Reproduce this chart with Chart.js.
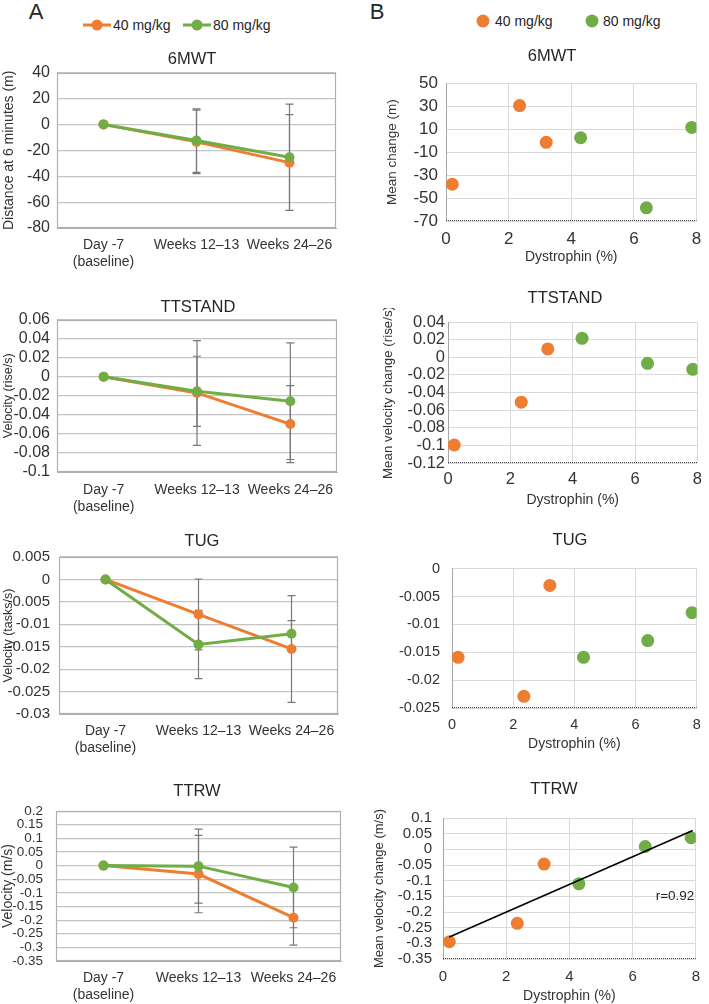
<!DOCTYPE html>
<html>
<head>
<meta charset="utf-8">
<script src="https://cdn.jsdelivr.net/npm/chart.js@4.4.1/dist/chart.umd.min.js"></script>
<style>
  body { margin: 0; width: 709px; height: 1004px; overflow: hidden; background: #fff; position: relative;
         font-family: "Liberation Sans", Arial, sans-serif; color: #262626; }
  canvas { position: absolute; }
  .t { position: absolute; white-space: nowrap; line-height: 1; transform: translate(-50%, -50%); z-index: 2; }
  .l { position: absolute; white-space: nowrap; line-height: 1; transform: translateY(-50%); font-size: 14px; z-index: 2; }
  .seg { position: absolute; height: 3px; width: 28px; transform: translateY(-50%); }
  .dot { position: absolute; border-radius: 50%; transform: translate(-50%, -50%); }
</style>
</head>
<body>
<div class="t" style="left:36px;top:12px;font-size:22px">A</div>
<div class="t" style="left:377px;top:12px;font-size:22px">B</div>

<!-- legend A -->
<div class="seg" style="left:83px;top:25px;background:#ED7D31"></div>
<div class="dot" style="left:97px;top:25px;width:11px;height:11px;background:#ED7D31"></div>
<div class="l" style="left:113px;top:25px">40 mg/kg</div>
<div class="seg" style="left:183px;top:25px;background:#70AD47"></div>
<div class="dot" style="left:197px;top:25px;width:11px;height:11px;background:#70AD47"></div>
<div class="l" style="left:213px;top:25px">80 mg/kg</div>

<!-- legend B -->
<div class="dot" style="left:483px;top:21px;width:13px;height:13px;background:#ED7D31"></div>
<div class="l" style="left:495px;top:21px">40 mg/kg</div>
<div class="dot" style="left:592px;top:21px;width:13px;height:13px;background:#70AD47"></div>
<div class="l" style="left:603px;top:21px">80 mg/kg</div>

<div class="t" style="left:192px;top:58px;font-size:16.5px">6MWT</div>
<div class="t" style="left:198px;top:306px;font-size:16.5px">TTSTAND</div>
<div class="t" style="left:202px;top:540px;font-size:16.5px">TUG</div>
<div class="t" style="left:197px;top:790px;font-size:16.5px">TTRW</div>
<div class="t" style="left:552px;top:55px;font-size:16.5px">6MWT</div>
<div class="t" style="left:565px;top:297px;font-size:16.5px">TTSTAND</div>
<div class="t" style="left:570px;top:539px;font-size:16.5px">TUG</div>
<div class="t" style="left:554px;top:788px;font-size:16.5px">TTRW</div>
<div class="t" style="left:675px;top:896px;font-size:13.5px">r=0.92</div>

<canvas id="a1"></canvas>
<canvas id="a2"></canvas>
<canvas id="a3"></canvas>
<canvas id="a4"></canvas>
<canvas id="b1"></canvas>
<canvas id="b2"></canvas>
<canvas id="b3"></canvas>
<canvas id="b4"></canvas>

<script>
// categories and doses
const visits = [['Day -7', '(baseline)'], 'Weeks 12–13', 'Weeks 24–26'];
const doses = ['40 mg/kg', '80 mg/kg'];

// A: change from baseline (mean) and error bar half-lengths
const walk40 = [0, -13.5, -29.5];
const walk40Err = [0, 24.5, 37];
const walk80 = [0, -12.5, -25.3];
const walk80Err = [0, 24.5, 41];

const stand40 = [0, -0.017, -0.0497];
const stand40Err = [0, 0.055, 0.0404];
const stand80 = [0, -0.0153, -0.0257];
const stand80Err = [0, 0.0368, 0.0612];

const tug40 = [0, -0.0078, -0.0155];
const tug40Err = [0, 0.0079, 0.0119];
const tug80 = [0, -0.0145, -0.0121];
const tug80Err = [0, 0.0076, 0.0029];

const ttrw40 = [0, -0.031, -0.191];
const ttrw40Err = [0, 0.142, 0.101];
const ttrw80 = [0, -0.002, -0.080];
const ttrw80Err = [0, 0.136, 0.148];

// B: dystrophin (%) against mean change
const dys40 = [0.2, 2.35, 3.2];
const dys80 = [4.3, 6.4, 7.85];
const walkB40 = [-38, 30.5, -1.5];
const walkB80 = [2.5, -58.5, 11.5];
const standB40 = [-0.0996, -0.051, 0.0094];
const standB80 = [0.0215, -0.0069, -0.0137];
const tugB40 = [-0.0159, -0.0229, -0.003];
const tugB80 = [-0.0159, -0.0129, -0.0079];
const ttrwB40 = [-0.295, -0.236, -0.047];
const ttrwB80 = [-0.110, 0.009, 0.037];
const trendX = [0.2, 7.9];
const trendY = [-0.28, 0.06];

// axis ranges [min, max, step]
const walkTicks = [-80, 40, 20];
const standTicks = [-0.1, 0.06, 0.02];
const tugTicks = [-0.03, 0.005, 0.005];
const ttrwTicks = [-0.35, 0.2, 0.05];
const walkBTicks = [-70, 50, 20];
const standBTicks = [-0.12, 0.04, 0.02];
const tugBTicks = [-0.025, 0, 0.005];
const ttrwBTicks = [-0.35, 0.1, 0.05];
const dysTicks = [0, 8, 2];

const orange = '#ED7D31';
const green = '#70AD47';
const FONT = '"Liberation Sans", Arial, sans-serif';
const txt = '#333333';
const fmt = v => String(+Number(v).toFixed(6));

// gray error bars, drawn under the points
const errorBars = {
  id: 'errorBars',
  beforeDatasetsDraw(chart) {
    const ctx = chart.ctx;
    const y = chart.scales.y;
    chart.data.datasets.forEach((ds, i) => {
      if (!ds.errors) return;
      const meta = chart.getDatasetMeta(i);
      ctx.save();
      ctx.strokeStyle = '#787878';
      ctx.lineWidth = 1.2;
      ds.data.forEach((v, j) => {
        const e = ds.errors[j];
        if (!e) return;
        const x = meta.data[j].x;
        const top = y.getPixelForValue(v + e);
        const bot = y.getPixelForValue(v - e);
        ctx.beginPath();
        ctx.moveTo(x, top); ctx.lineTo(x, bot);
        ctx.moveTo(x - 4, top); ctx.lineTo(x + 4, top);
        ctx.moveTo(x - 4, bot); ctx.lineTo(x + 4, bot);
        ctx.stroke();
      });
      ctx.restore();
    });
  }
};

// frame round the plot area of the A charts
const plotBox = {
  id: 'plotBox',
  beforeDatasetsDraw(chart) {
    const a = chart.chartArea;
    const ctx = chart.ctx;
    ctx.save();
    ctx.strokeStyle = '#b0b0b0';
    ctx.lineWidth = 1.2;
    ctx.strokeRect(Math.round(a.left) + 0.5, Math.round(a.top) + 0.5,
                   Math.round(a.width) - 1, Math.round(a.height) - 1);
    ctx.restore();
  }
};

// dotted base line of the B charts
const dottedBase = {
  id: 'dottedBase',
  beforeDatasetsDraw(chart) {
    const a = chart.chartArea;
    const ctx = chart.ctx;
    const y = Math.round(a.bottom) - 0.5;
    ctx.save();
    ctx.strokeStyle = '#ffffff';
    ctx.lineWidth = 1;
    ctx.beginPath(); ctx.moveTo(a.left, y); ctx.lineTo(a.right, y); ctx.stroke();
    ctx.strokeStyle = '#3a3a3a';
    ctx.setLineDash([1, 1]);
    ctx.beginPath(); ctx.moveTo(a.left, y); ctx.lineTo(a.right, y); ctx.stroke();
    ctx.restore();
  }
};

function place(id, b) {
  const c = document.getElementById(id);
  const top = b.plotT - 14;
  c.width = b.width;
  c.height = b.plotB - top + b.xh;
  c.style.left = b.left + 'px';
  c.style.top = top + 'px';
  return c;
}

function lineChart(id, b, yr, s40, e40, s80, e80, yTitle) {
  const c = place(id, b);
  new Chart(c, {
    type: 'line',
    data: {
      labels: visits,
      datasets: [
        { label: doses[0], data: s40, errors: e40, borderColor: orange, backgroundColor: orange,
          borderWidth: 3, pointRadius: 5, pointBorderWidth: 0, order: 1 },
        { label: doses[1], data: s80, errors: e80, borderColor: green, backgroundColor: green,
          borderWidth: 3, pointRadius: 5, pointBorderWidth: 0, order: 0 }
      ]
    },
    options: {
      responsive: false,
      animation: false,
      layout: { padding: { top: 14, left: 0, bottom: 0, right: b.width - (b.plotR - b.left) } },
      plugins: { legend: { display: false }, tooltip: { enabled: false } },
      scales: {
        x: {
          offset: true,
          grid: { display: false, drawTicks: false },
          border: { color: '#b0b0b0' },
          ticks: { color: txt, font: { family: FONT, size: 14 }, padding: b.xPad, maxRotation: 0, autoSkip: false },
          afterFit: s => { s.height = b.xh; }
        },
        y: {
          min: yr[0], max: yr[1],
          grid: { color: '#c4c4c4', lineWidth: 1.2, drawTicks: false },
          border: { color: '#b0b0b0' },
          ticks: { stepSize: yr[2], maxTicksLimit: 30, autoSkip: false, color: txt,
                   font: { family: FONT, size: b.tick }, padding: b.yPad, callback: fmt },
          title: { display: true, text: yTitle, color: txt, font: { family: FONT, size: b.titleSize },
                   padding: { top: b.titlePad, bottom: 0 } },
          afterFit: s => { s.width = b.plotL - b.left; }
        }
      }
    },
    plugins: [plotBox, errorBars]
  });
}

function scatterChart(id, b, yr, y40, y80, yTitle, trend) {
  const c = place(id, b);
  const sets = [
    { label: doses[0], data: dys40.map((x, i) => ({ x: x, y: y40[i] })), backgroundColor: orange,
      pointRadius: 6.5, pointBorderWidth: 0, order: 1 },
    { label: doses[1], data: dys80.map((x, i) => ({ x: x, y: y80[i] })), backgroundColor: green,
      pointRadius: 6.5, pointBorderWidth: 0, order: 1 }
  ];
  if (trend) {
    sets.push({ data: trendX.map((x, i) => ({ x: x, y: trendY[i] })), showLine: true,
                borderColor: '#000', borderWidth: 1.6, pointRadius: 0, order: 0 });
  }
  new Chart(c, {
    type: 'scatter',
    data: { datasets: sets },
    options: {
      responsive: false,
      animation: false,
      layout: { padding: { top: 14, left: 0, bottom: 0, right: b.width - (b.plotR - b.left) } },
      plugins: { legend: { display: false }, tooltip: { enabled: false } },
      scales: {
        x: {
          type: 'linear', min: dysTicks[0], max: dysTicks[1],
          grid: { color: '#d9d9d9', drawTicks: false },
          border: { display: false },
          ticks: { stepSize: dysTicks[2], color: txt, font: { family: FONT, size: b.tick }, padding: b.xPad },
          title: { display: true, text: 'Dystrophin (%)', color: txt, font: { family: FONT, size: 14 },
                   padding: { top: 0, bottom: 0 } },
          afterFit: s => { s.height = b.xh; }
        },
        y: {
          min: yr[0], max: yr[1],
          grid: { color: '#d9d9d9', drawTicks: false },
          border: { color: '#a6a6a6' },
          ticks: { stepSize: yr[2], maxTicksLimit: 30, autoSkip: false, color: txt,
                   font: { family: FONT, size: b.tick }, padding: b.yPad, callback: fmt },
          title: { display: !!yTitle, text: yTitle || '', color: txt, font: { family: FONT, size: b.titleSize },
                   padding: { top: b.titlePad, bottom: 0 } },
          afterFit: s => { s.width = b.plotL - b.left; }
        }
      }
    },
    plugins: [dottedBase]
  });
}

lineChart('a1', { left: 0, width: 360, plotL: 57, plotR: 336, plotT: 70, plotB: 228, xh: 46,
                  xPad: 8.6, yPad: 7, tick: 16, titleSize: 14, titlePad: 1 },
          walkTicks, walk40, walk40Err, walk80, walk80Err, 'Distance at 6 minutes (m)');
lineChart('a2', { left: 0, width: 360, plotL: 57, plotR: 337, plotT: 317, plotB: 472, xh: 46,
                  xPad: 9.6, yPad: 7, tick: 16, titleSize: 12.5, titlePad: 1 },
          standTicks, stand40, stand40Err, stand80, stand80Err, 'Velocity (rise/s)');
lineChart('a3', { left: 0, width: 360, plotL: 59, plotR: 338, plotT: 553, plotB: 714, xh: 46,
                  xPad: 8.6, yPad: 9, tick: 15, titleSize: 12.5, titlePad: 1 },
          tugTicks, tug40, tug40Err, tug80, tug80Err, 'Velocity (tasks/s)');
lineChart('a4', { left: 0, width: 360, plotL: 56, plotR: 341, plotT: 804, plotB: 961, xh: 46,
                  xPad: 8.6, yPad: 13, tick: 13.5, titleSize: 14, titlePad: 0 },
          ttrwTicks, ttrw40, ttrw40Err, ttrw80, ttrw80Err, 'Velocity (m/s)');

scatterChart('b1', { left: 360, width: 349, plotL: 446, plotR: 701, plotT: 79, plotB: 221, xh: 45,
                     xPad: 7.8, yPad: 8, tick: 17, titleSize: 13.5, titlePad: 24 },
             walkBTicks, walkB40, walkB80, 'Mean change (m)');
scatterChart('b2', { left: 360, width: 349, plotL: 448, plotR: 700, plotT: 322, plotB: 463, xh: 46,
                     xPad: 7, yPad: 3, tick: 16.5, titleSize: 13.3, titlePad: 20 },
             standBTicks, standB40, standB80, 'Mean velocity change (rise/s)');
scatterChart('b3', { left: 360, width: 349, plotL: 452, plotR: 705, plotT: 562, plotB: 708, xh: 45,
                     xPad: 8.3, yPad: 12, tick: 14.5, titleSize: 13.3, titlePad: 0 },
             tugBTicks, tugB40, tugB80, '');
scatterChart('b4', { left: 360, width: 349, plotL: 443, plotR: 703, plotT: 812, plotB: 959, xh: 46,
                     xPad: 9, yPad: 11, tick: 15, titleSize: 13, titlePad: 12 },
             ttrwBTicks, ttrwB40, ttrwB80, 'Mean velocity change (m/s)', true);
</script>
</body>
</html>
